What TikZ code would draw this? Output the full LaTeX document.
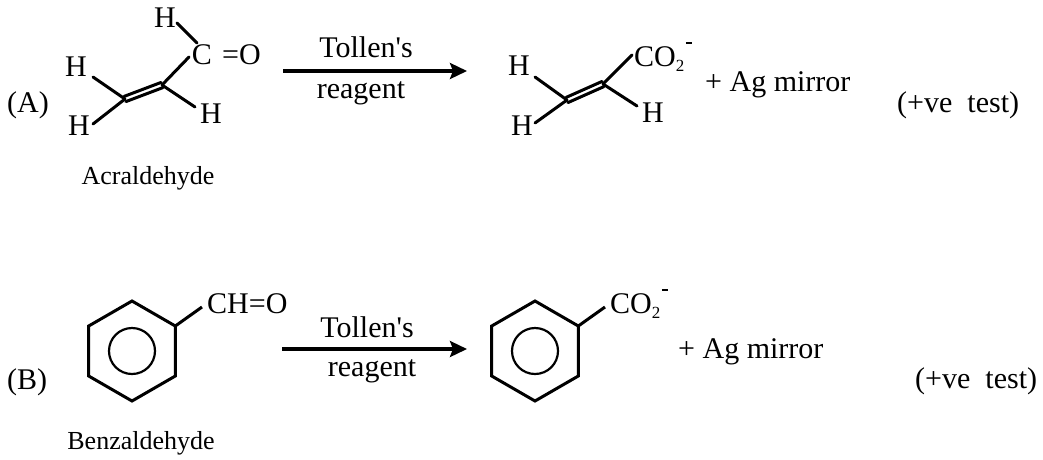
\documentclass[tikz,border=0pt]{standalone}
\usepackage{fontspec}
\setmainfont{Liberation Serif}
\usetikzlibrary{arrows.meta,calc}
\newcommand\cotwominus{CO\raisebox{-5pt}{\fontsize{17}{17}\selectfont 2}\hspace{1.5pt}\raisebox{22pt}{\rule{6.5pt}{1.8pt}}}
\newcommand\sq{\XeTeXglyph\XeTeXcharglyph"27\relax}
\begin{document}
\begin{tikzpicture}[x=1pt,y=-1pt,
  big/.style={font=\fontsize{30}{36}\selectfont, inner sep=0pt, anchor=base},
  bigw/.style={big, anchor=base west},
  cname/.style={font=\fontsize{26}{30}\selectfont, inner sep=0pt, anchor=base},
  bond/.style={line width=3pt, line cap=round},
  ring/.style={line width=3pt, line join=miter},
  innerring/.style={line width=2.2pt},
  rxn/.style={line width=3.2pt, -{Stealth[length=17pt,width=16pt,inset=3pt]}}]
\useasboundingbox (0,0) rectangle (1043,459);

% ---------- (A) ----------
\node[bigw] (labA) at (7,112) {(A)};
\node[big] (hTop) at (165,27) {H};
\node[big] (cAld) at (202,64) {C};
\node[bigw] (eqO) at (222,64) {=O};
\node[big] (hUL) at (76,76) {H};
\node[big] (hLL) at (79,135) {H};
\node[big] (hR) at (211,123) {H};
\node[cname] (acr) at (148,184) {Acraldehyde};

\coordinate (c1) at (125,99);
\coordinate (c2) at (162,85);
\coordinate (bHUL) at (93,77);
\coordinate (bHLL) at (93,124);
\coordinate (bC) at (189,57);
\coordinate (bHR) at (195,107);
\coordinate (bHt1) at (177,23);
\coordinate (bHt2) at (197,43);
\draw[bond] ([shift={(-0.9,-2.6)}]c1) -- ([shift={(-0.9,-2.6)}]c2);
\draw[bond] ([shift={(0.9,2.6)}]c1) -- ([shift={(0.9,2.6)}]c2);
\draw[bond] (bHUL) -- (c1);
\draw[bond] (bHLL) -- (c1);
\draw[bond] (c2) -- (bC);
\draw[bond] (c2) -- (bHR);
\draw[bond] (bHt1) -- (bHt2);

% arrow A
\coordinate (aAs) at (283,71);
\coordinate (aAe) at (467,71);
\draw[rxn] (aAs) -- (aAe);
\node[big] (tolA) at (366,57) {Tollen\sq s};
\node[big] (reaA) at (361,98) {reagent};

% product A
\node[big] (pHUL) at (519,75) {H};
\node[big] (pHLL) at (522,135) {H};
\node[big] (pHR) at (653,122) {H};
\node[bigw] (pCO) at (634,66) {\cotwominus};
\coordinate (d1) at (567,100);
\coordinate (d2) at (603,84);
\coordinate (pbHUL) at (535,77);
\coordinate (pbHLL) at (535,123);
\coordinate (pbC) at (632,55);
\coordinate (pbHR) at (637,106);
\draw[bond] ([shift={(-0.9,-2.6)}]d1) -- ([shift={(-0.9,-2.6)}]d2);
\draw[bond] ([shift={(0.9,2.6)}]d1) -- ([shift={(0.9,2.6)}]d2);
\draw[bond] (pbHUL) -- (d1);
\draw[bond] (pbHLL) -- (d1);
\draw[bond] (d2) -- (pbC);
\draw[bond] (d2) -- (pbHR);

\node[bigw] (agA) at (705,91) {+ Ag mirror};
\node[bigw] (tstA) at (897,112) {(+ve\hspace{0.5em}test)};

% ---------- (B) ----------
\node[bigw] (labB) at (7,389) {(B)};
\coordinate (bz1) at (132,351);
\draw[ring] ($(bz1)+(90:50)$) -- ($(bz1)+(30:50)$) -- ($(bz1)+(-30:50)$) -- ($(bz1)+(-90:50)$) -- ($(bz1)+(-150:50)$) -- ($(bz1)+(150:50)$) -- cycle;
\draw[innerring] (bz1) circle[radius=23];
\coordinate (bzs1) at ($(bz1)+(-30:50)$);
\coordinate (bzs1e) at (202,307);
\draw[ring] (bzs1) -- (bzs1e);
\node[bigw] (cho) at (207,313) {CH=O};
\node[cname] (benz) at (141,449) {Benzaldehyde};

\coordinate (aBs) at (282,349);
\coordinate (aBe) at (467,349);
\draw[rxn] (aBs) -- (aBe);
\node[big] (tolB) at (367,337) {Tollen\sq s};
\node[big] (reaB) at (372,376) {reagent};

\coordinate (bz2) at (535,351);
\draw[ring] ($(bz2)+(90:50)$) -- ($(bz2)+(30:50)$) -- ($(bz2)+(-30:50)$) -- ($(bz2)+(-90:50)$) -- ($(bz2)+(-150:50)$) -- ($(bz2)+(150:50)$) -- cycle;
\draw[innerring] (bz2) circle[radius=23];
\coordinate (bzs2) at ($(bz2)+(-30:50)$);
\coordinate (bzs2e) at (605,307);
\draw[ring] (bzs2) -- (bzs2e);
\node[bigw] (pCOB) at (610,313) {\cotwominus};

\node[bigw] (agB) at (678,358) {+ Ag mirror};
\node[bigw] (tstB) at (915,388) {(+ve\hspace{0.5em}test)};
\end{tikzpicture}
\end{document}
